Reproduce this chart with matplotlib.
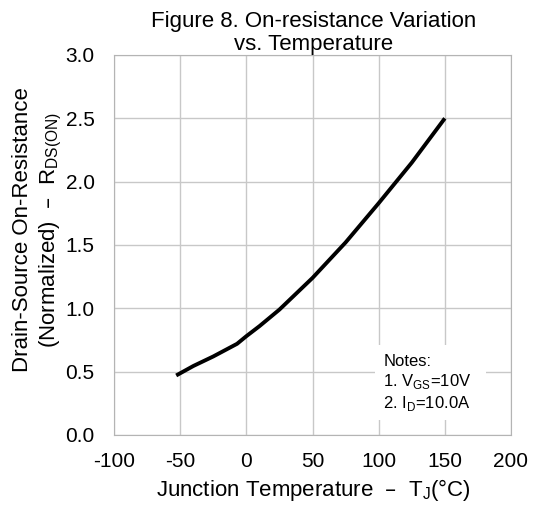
import numpy as np
import matplotlib.pyplot as plt
from matplotlib.patches import Rectangle

plt.rcParams['font.family'] = ['Liberation Sans', 'DejaVu Sans']
plt.rcParams['axes.unicode_minus'] = False

# curve
temp = [-53, -40, -25, -7, 0, 10, 25, 50, 75, 100, 125, 150]
rds = [0.47, 0.545, 0.62, 0.72, 0.78, 0.86, 0.99, 1.24, 1.52, 1.83, 2.15, 2.50]

xticks = [-100, -50, 0, 50, 100, 150, 200]
yticks = [0.0, 0.5, 1.0, 1.5, 2.0, 2.5, 3.0]

W, H = 537, 513
fig = plt.figure(figsize=(W / 100, H / 100), dpi=100)
ax = fig.add_axes([114 / W, 1 - 435 / H, 397 / W, 380 / H])

ax.plot(temp, rds, color='black', lw=2.8, zorder=3, solid_capstyle='butt')

ax.set_xlim(-100, 200)
ax.set_ylim(0, 3)
ax.set_xticks(xticks)
ax.set_yticks(yticks)
ax.set_yticklabels(['%.1f' % v for v in yticks])
ax.grid(True, color='#c8c8c8', lw=1)
for s in ax.spines.values():
    s.set_color('#b4b4b4')
ax.tick_params(length=0, labelsize=15)
ax.tick_params(axis='y', pad=14)
ax.tick_params(axis='x', pad=12)

# title, two lines
fig.text(314 / W, 1 - 27 / H, 'Figure 8. On-resistance Variation', fontsize=16,
         ha='center', va='baseline')
fig.text(314 / W, 1 - 50 / H, 'vs. Temperature', fontsize=16,
         ha='center', va='baseline')

fig.text(313 / W, 1 - 490 / H, 'Junction Temperature  \u2013  T$_\\mathregular{J}$(\u00b0C)',
         fontsize=16, ha='center', va='center')
fig.text(38 / W, 1 - 230 / H,
         'Drain-Source On-Resistance\n(Normalized)  \u2013  R$_\\mathregular{DS(ON)}$',
         fontsize=16, ha='center', va='center', rotation=90, linespacing=1.3)

# notes box covering the grid
ax.add_patch(Rectangle((0.657, 0.039), 0.28, 0.198, transform=ax.transAxes,
                       facecolor='white', edgecolor='none', zorder=2.5))
ax.text(0.678, 0.213, 'Notes:\n1. V$_\\mathregular{GS}$=10V\n2. I$_\\mathregular{D}$=10.0A',
        transform=ax.transAxes, fontsize=12, va='top', ha='left', linespacing=1.2, zorder=4)

fig.savefig('out.png', dpi=100)
